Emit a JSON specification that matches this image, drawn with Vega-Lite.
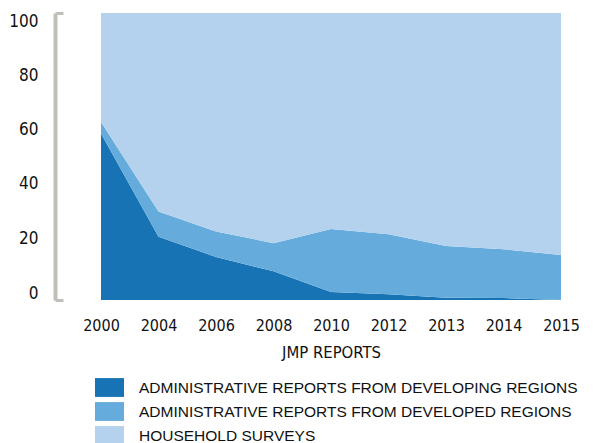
{
  "$schema": "https://vega.github.io/schema/vega-lite/v6.json",
  "width": 460,
  "height": 287,
  "autosize": {"type": "none"},
  "padding": {"left": 101, "top": 13, "right": 34, "bottom": 143},
  "background": "white",
  "config": {"view": {"stroke": null}},
  "data": {
    "values": [
      {"year": "2000", "k": 1, "source": "ADMINISTRATIVE REPORTS FROM DEVELOPING REGIONS", "pct": 58},
      {"year": "2004", "k": 1, "source": "ADMINISTRATIVE REPORTS FROM DEVELOPING REGIONS", "pct": 22},
      {"year": "2006", "k": 1, "source": "ADMINISTRATIVE REPORTS FROM DEVELOPING REGIONS", "pct": 15},
      {"year": "2008", "k": 1, "source": "ADMINISTRATIVE REPORTS FROM DEVELOPING REGIONS", "pct": 10},
      {"year": "2010", "k": 1, "source": "ADMINISTRATIVE REPORTS FROM DEVELOPING REGIONS", "pct": 2.8},
      {"year": "2012", "k": 1, "source": "ADMINISTRATIVE REPORTS FROM DEVELOPING REGIONS", "pct": 2},
      {"year": "2013", "k": 1, "source": "ADMINISTRATIVE REPORTS FROM DEVELOPING REGIONS", "pct": 0.8},
      {"year": "2014", "k": 1, "source": "ADMINISTRATIVE REPORTS FROM DEVELOPING REGIONS", "pct": 0.7},
      {"year": "2015", "k": 1, "source": "ADMINISTRATIVE REPORTS FROM DEVELOPING REGIONS", "pct": 0},
      {"year": "2000", "k": 2, "source": "ADMINISTRATIVE REPORTS FROM DEVELOPED REGIONS", "pct": 4},
      {"year": "2004", "k": 2, "source": "ADMINISTRATIVE REPORTS FROM DEVELOPED REGIONS", "pct": 8.8},
      {"year": "2006", "k": 2, "source": "ADMINISTRATIVE REPORTS FROM DEVELOPED REGIONS", "pct": 8.9},
      {"year": "2008", "k": 2, "source": "ADMINISTRATIVE REPORTS FROM DEVELOPED REGIONS", "pct": 9.8},
      {"year": "2010", "k": 2, "source": "ADMINISTRATIVE REPORTS FROM DEVELOPED REGIONS", "pct": 21.9},
      {"year": "2012", "k": 2, "source": "ADMINISTRATIVE REPORTS FROM DEVELOPED REGIONS", "pct": 20.9},
      {"year": "2013", "k": 2, "source": "ADMINISTRATIVE REPORTS FROM DEVELOPED REGIONS", "pct": 18},
      {"year": "2014", "k": 2, "source": "ADMINISTRATIVE REPORTS FROM DEVELOPED REGIONS", "pct": 17},
      {"year": "2015", "k": 2, "source": "ADMINISTRATIVE REPORTS FROM DEVELOPED REGIONS", "pct": 15.7},
      {"year": "2000", "k": 3, "source": "HOUSEHOLD SURVEYS", "pct": 38},
      {"year": "2004", "k": 3, "source": "HOUSEHOLD SURVEYS", "pct": 69.2},
      {"year": "2006", "k": 3, "source": "HOUSEHOLD SURVEYS", "pct": 76.1},
      {"year": "2008", "k": 3, "source": "HOUSEHOLD SURVEYS", "pct": 80.2},
      {"year": "2010", "k": 3, "source": "HOUSEHOLD SURVEYS", "pct": 75.3},
      {"year": "2012", "k": 3, "source": "HOUSEHOLD SURVEYS", "pct": 77.1},
      {"year": "2013", "k": 3, "source": "HOUSEHOLD SURVEYS", "pct": 81.2},
      {"year": "2014", "k": 3, "source": "HOUSEHOLD SURVEYS", "pct": 82.3},
      {"year": "2015", "k": 3, "source": "HOUSEHOLD SURVEYS", "pct": 84.3}
    ]
  },
  "mark": {"type": "area", "opacity": 1},
  "encoding": {
    "x": {
      "field": "year",
      "type": "ordinal",
      "scale": {"type": "point", "padding": 0},
      "axis": {
        "title": "JMP REPORTS",
        "labelAngle": 0,
        "domain": false,
        "ticks": false,
        "labelFont": "DejaVu Sans Condensed",
        "labelFontSize": 16,
        "labelColor": "#111111",
        "labelPadding": 17,
        "titleFont": "DejaVu Sans Condensed",
        "titleFontSize": 16.5,
        "titleFontWeight": "normal",
        "titleColor": "#111111",
        "titlePadding": 11
      }
    },
    "y": {
      "field": "pct",
      "type": "quantitative",
      "stack": "zero",
      "scale": {"domain": [0, 100], "nice": false},
      "axis": {
        "title": null,
        "offset": 46,
        "values": [0, 20, 40, 60, 80, 100],
        "grid": false,
        "domainColor": "#c0bfba",
        "domainWidth": 4,
        "domainCap": "butt",
        "ticks": true,
        "tickColor": "#c0bfba",
        "tickWidth": 3,
        "tickSize": -8,
        "tickOpacity": {"condition": {"test": "datum.value == 0 || datum.value == 100", "value": 1}, "value": 0},
        "labelFont": "DejaVu Sans Condensed",
        "labelFontSize": 17,
        "labelColor": "#111111",
        "labelPadding": 25,
        "labelOffset": {
          "condition": [
            {"test": "datum.value == 100", "value": 8},
            {"test": "datum.value == 80", "value": 5},
            {"test": "datum.value == 60", "value": 2},
            {"test": "datum.value == 40", "value": -2},
            {"test": "datum.value == 20", "value": -4}
          ],
          "value": -7
        }
      }
    },
    "color": {
      "field": "source",
      "type": "nominal",
      "scale": {
        "domain": ["ADMINISTRATIVE REPORTS FROM DEVELOPING REGIONS", "ADMINISTRATIVE REPORTS FROM DEVELOPED REGIONS", "HOUSEHOLD SURVEYS"],
        "range": ["#1773b4", "#65acdc", "#b4d2ee"]
      },
      "legend": {
        "title": null,
        "orient": "none",
        "legendX": -6,
        "legendY": 360,
        "direction": "vertical",
        "symbolType": "M -1 -0.65 H 1 V 0.65 H -1 Z",
        "symbolSize": 841,
        "symbolStrokeWidth": 0,
        "symbolOpacity": 1,
        "labelFont": "Liberation Sans",
        "labelFontSize": 15.5,
        "labelColor": "#111111",
        "labelOffset": 15,
        "labelLimit": 600,
        "rowPadding": -3
      }
    },
    "order": {"field": "k", "type": "quantitative"}
  }
}
